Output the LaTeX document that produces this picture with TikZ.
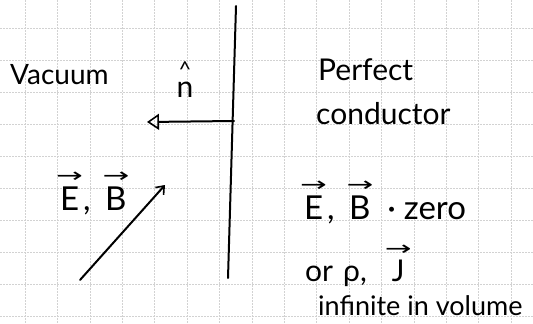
\documentclass[tikz,border=0pt]{standalone}
\usepackage{fontspec}
\usepackage{graphicx}
\setmainfont{Lato}
\newfontfamily\symfont{DejaVu Sans}
\usetikzlibrary{arrows.meta}
\newcommand\hv[1]{\begin{tabular}[b]{@{}c@{}}{\symfont\fontsize{20}{20}\selectfont\scalebox{1.6}[1]{→}}\\[-6pt]#1\end{tabular}}
\newcommand\hhat[1]{\begin{tabular}[b]{@{}c@{}}{\fontsize{22}{22}\selectfont\^{}}\\[-12pt]#1\end{tabular}}
\tikzset{
  gridline/.style={gray!35, line width=0.5pt, dash pattern=on 1.5pt off 1.5pt},
  ink/.style={black, line width=2pt, line cap=round},
  hand/.style={inner sep=0pt, font=\fontsize{30}{32}\selectfont},
  handbig/.style={inner sep=0pt, font=\fontsize{33}{34}\selectfont},
  handsm/.style={inner sep=0pt, font=\fontsize{27}{29}\selectfont},
}
\begin{document}
\begin{tikzpicture}[x=1pt,y=-1pt]
\useasboundingbox (0,0) rectangle (533,324);
% grid
\foreach \k in {0,...,16} {
  \draw[gridline] ({25+32.4*(\k-1)},0) -- ({25+32.4*(\k-1)},324);
}
\foreach \k in {0,...,10} {
  \draw[gridline] (0,{28+32*(\k-1)}) -- (533,{28+32*(\k-1)});
}
% wall
\coordinate (walltop) at (236,6);
\coordinate (wallbot) at (228,278);
\draw[ink] (walltop) -- (wallbot);
% normal arrow
\coordinate (nstart) at (234,121);
\coordinate (nend) at (147,122);
\draw[ink, -{Triangle[open, length=12pt, width=16pt, line width=1.6pt]}] (nstart) -- (nend);
\node[hand, anchor=base] (nhat) at (185,97) {\hhat{n}};
% diagonal arrow
\coordinate (dstart) at (80,280);
\coordinate (dend) at (165,185);
\draw[ink, -{Straight Barb[length=7pt, width=11pt, line width=1.6pt]}] (dstart) -- (dend);
% texts
\node[inner sep=0pt, font=\fontsize{28}{30}\selectfont, anchor=base west] (vac) at (10,84) {Vacuum};
\node[hand, anchor=base west] (perf) at (318,80) {Perfect};
\node[hand, anchor=base west] (cond) at (316,124) {conductor};
\node[handbig, anchor=base west] (eb) at (56,210) {\hv{E},\hspace{12pt}\hv{B}};
\node[handbig, anchor=base west] (ebz) at (300,219) {\hv{E},\hspace{12pt}\hv{B}\hspace{14pt}·\hspace{8pt}zero};
\node[hand, anchor=base west] (orj) at (305,281) {or\hspace{10pt}ρ,\hspace{18pt}\hv{J}};
\node[handsm, anchor=base west] (inf) at (318,315) {infinite in volume};
\end{tikzpicture}
\end{document}
